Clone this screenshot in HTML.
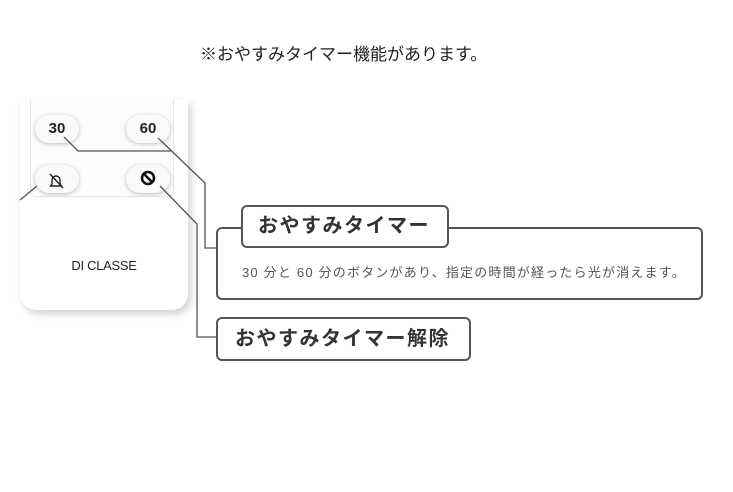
<!DOCTYPE html>
<html><head><meta charset="utf-8"><style>
body{margin:0;width:733px;height:492px;background:#fff;position:relative;overflow:hidden;font-family:"Liberation Sans","Noto Sans CJK JP",sans-serif;}
.a{position:absolute}
.btn{position:absolute;width:44px;height:28px;border-radius:14px;background:#fafafa;box-shadow:0 1px 4px rgba(0,0,0,.25);font-weight:bold;font-size:15px;color:#222;text-align:center;line-height:28px}
.box{position:absolute;border:2px solid #555;border-radius:6px;background:#fff;box-sizing:border-box;color:#333}
</style></head><body>
<div class="a" style="left:200px;top:40px;font-size:17px;color:#222;white-space:nowrap">※おやすみタイマー機能があります。</div>
<div class="a" style="left:20px;top:100px;width:168px;height:210px;background:#fff;border-radius:0 0 16px 16px;box-shadow:3px 4px 8px rgba(0,0,0,.18)"></div>
<div class="a" style="left:30px;top:100px;width:142px;height:96px;border:1px solid #e4e4e4;border-top:none;border-radius:0 0 6px 6px;background:#fcfcfc"></div>
<div class="btn" style="left:35px;top:115px">30</div>
<div class="btn" style="left:126px;top:115px">60</div>
<div class="btn" style="left:35px;top:165px"></div>
<div class="btn" style="left:126px;top:165px"></div>
<div class="a" style="left:20px;top:258px;width:168px;text-align:center;font-size:13px;color:#222;letter-spacing:-0.3px">DI CLASSE</div>
<svg class="a" style="left:0;top:0" width="733" height="492">
<g fill="none" stroke="#555" stroke-width="1.3">
<polyline points="64,137 78,151 172,151"/>
<polyline points="158,138 205,183 205,248 218,248"/>
<polyline points="160,186 197,224 197,337 218,337"/>
<line x1="20" y1="200" x2="37" y2="186"/>
</g>
<g fill="none" stroke="#222" stroke-width="1.4">
<path d="M52,184 v-4 a4,4 0 0 1 8,0 v4 l1.5,2 h-11 z"/>
<line x1="50" y1="174" x2="63" y2="188"/>
</g>
<g fill="none" stroke="#111" stroke-width="2.6">
<circle cx="148" cy="178" r="6"/>
<line x1="144" y1="174" x2="152" y2="182"/>
</g>
</svg>
<div class="box" style="left:216px;top:227px;width:487px;height:73px"></div>
<div class="a" style="left:242px;top:262px;font-size:13px;color:#555;white-space:nowrap;letter-spacing:1.2px">30 分と 60 分のボタンがあり、指定の時間が経ったら光が消えます。</div>
<div class="box" style="left:241px;top:205px;width:208px;height:43px;font-size:20px;font-weight:bold;line-height:39px;padding-left:15px;letter-spacing:1.5px">おやすみタイマー</div>
<div class="box" style="left:216px;top:317px;width:255px;height:44px;font-size:20px;font-weight:bold;line-height:40px;padding-left:17px;letter-spacing:1.5px">おやすみタイマー解除</div>
</body></html>
